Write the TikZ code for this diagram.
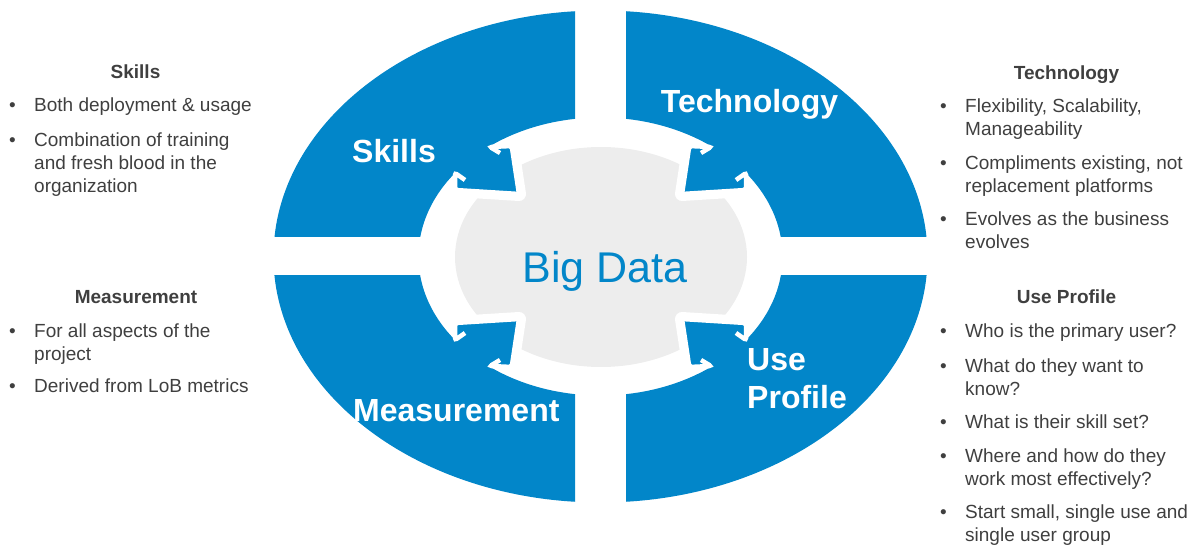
\documentclass[tikz,border=0pt]{standalone}
\usepackage{fontspec}
\setmainfont{Liberation Sans}
\usetikzlibrary{positioning}
\definecolor{bdblue}{HTML}{0286C9}
\definecolor{bdgray}{HTML}{EDEDED}
\definecolor{txtgray}{HTML}{3F3F3F}
\tikzset{
  quarter/.style={fill=bdblue, even odd rule},
  halo/.style={draw=white, line width=14, line join=round},
  tiphead/.style={fill=bdblue, rounded corners=2},
  notch/.style={draw=white, line width=4.5, rounded corners=2},
  wlabel/.style={text=white, inner sep=0, align=left, font=\fontsize{32}{38}\selectfont\bfseries},
  head/.style={text=txtgray, inner sep=0, anchor=base, font=\fontsize{19}{23}\selectfont\bfseries},
  item/.style={text=txtgray, inner sep=0, anchor=base west, align=left, font=\fontsize{19}{23}\selectfont},
  dot/.style={text=txtgray, inner sep=0, anchor=base west, font=\fontsize{19}{23}\selectfont}
}
\begin{document}
\begin{tikzpicture}[x=1pt, y=-1pt]
\useasboundingbox (0,0) rectangle (1191,545);

% centre
\fill[bdgray] (601,257) ellipse [x radius=146, y radius=110];

% white margins round the heads
\begin{scope}[shift={(600.5,256.5)}]
  \draw[halo] (-145.5,-83.5) -- (-145.5,-66.5) -- (-81.5,-62.5) -- (-88.8,-110.5) -- (-110.5,-109.5);
\end{scope}
\begin{scope}[shift={(600.5,256.5)}, xscale=-1]
  \draw[halo] (-145.5,-83.5) -- (-145.5,-66.5) -- (-81.5,-62.5) -- (-88.8,-110.5) -- (-110.5,-109.5);
\end{scope}
\begin{scope}[shift={(600.5,256.5)}, yscale=-1]
  \draw[halo] (-145.5,-83.5) -- (-145.5,-66.5) -- (-81.5,-62.5) -- (-88.8,-110.5) -- (-110.5,-109.5);
\end{scope}
\begin{scope}[shift={(600.5,256.5)}, xscale=-1, yscale=-1]
  \draw[halo] (-145.5,-83.5) -- (-145.5,-66.5) -- (-81.5,-62.5) -- (-88.8,-110.5) -- (-110.5,-109.5);
\end{scope}

% skills quarter
\begin{scope}[shift={(600.5,256.5)}]
  \begin{scope}
    \clip (-400,-300) rectangle (-25.5,-19.5);
    \fill[quarter] (0,0) ellipse [x radius=327, y radius=246] (0,0) ellipse [x radius=182, y radius=139];
  \end{scope}
  \fill[tiphead] (-110.5,-109.5) -- (-88.8,-110.5) -- (-81.5,-62.5) -- (-145.5,-66.5) -- (-145.5,-83.5)
    -- (-135.5,-76.5) -- (-170.5,-106.5) -- (-135.5,-133.5) -- (-100.5,-103.5) -- cycle;
  \draw[notch] (-135.5,-76.5) -- (-145.5,-83.5) -- (-145.5,-66.5) -- (-81.5,-62.5) -- (-88.8,-110.5) -- (-110.5,-109.5) -- (-100.5,-103.5);
\end{scope}

% technology quarter
\begin{scope}[shift={(600.5,256.5)}, xscale=-1]
  \begin{scope}
    \clip (-400,-300) rectangle (-25.5,-19.5);
    \fill[quarter] (0,0) ellipse [x radius=327, y radius=246] (0,0) ellipse [x radius=182, y radius=139];
  \end{scope}
  \fill[tiphead] (-110.5,-109.5) -- (-88.8,-110.5) -- (-81.5,-62.5) -- (-145.5,-66.5) -- (-145.5,-83.5)
    -- (-135.5,-76.5) -- (-170.5,-106.5) -- (-135.5,-133.5) -- (-100.5,-103.5) -- cycle;
  \draw[notch] (-135.5,-76.5) -- (-145.5,-83.5) -- (-145.5,-66.5) -- (-81.5,-62.5) -- (-88.8,-110.5) -- (-110.5,-109.5) -- (-100.5,-103.5);
\end{scope}

% measurement quarter
\begin{scope}[shift={(600.5,256.5)}, yscale=-1]
  \begin{scope}
    \clip (-400,-300) rectangle (-25.5,-19.5);
    \fill[quarter] (0,0) ellipse [x radius=327, y radius=246] (0,0) ellipse [x radius=182, y radius=139];
  \end{scope}
  \fill[tiphead] (-110.5,-109.5) -- (-88.8,-110.5) -- (-81.5,-62.5) -- (-145.5,-66.5) -- (-145.5,-83.5)
    -- (-135.5,-76.5) -- (-170.5,-106.5) -- (-135.5,-133.5) -- (-100.5,-103.5) -- cycle;
  \draw[notch] (-135.5,-76.5) -- (-145.5,-83.5) -- (-145.5,-66.5) -- (-81.5,-62.5) -- (-88.8,-110.5) -- (-110.5,-109.5) -- (-100.5,-103.5);
\end{scope}

% use profile quarter
\begin{scope}[shift={(600.5,256.5)}, xscale=-1, yscale=-1]
  \begin{scope}
    \clip (-400,-300) rectangle (-25.5,-19.5);
    \fill[quarter] (0,0) ellipse [x radius=327, y radius=246] (0,0) ellipse [x radius=182, y radius=139];
  \end{scope}
  \fill[tiphead] (-110.5,-109.5) -- (-88.8,-110.5) -- (-81.5,-62.5) -- (-145.5,-66.5) -- (-145.5,-83.5)
    -- (-135.5,-76.5) -- (-170.5,-106.5) -- (-135.5,-133.5) -- (-100.5,-103.5) -- cycle;
  \draw[notch] (-135.5,-76.5) -- (-145.5,-83.5) -- (-145.5,-66.5) -- (-81.5,-62.5) -- (-88.8,-110.5) -- (-110.5,-109.5) -- (-100.5,-103.5);
\end{scope}

\node[text=bdblue, inner sep=0, anchor=base, font=\fontsize{43}{50}\selectfont] (bigdata) at (605,283) {Big Data};
\node[wlabel, anchor=base] (skillsw) at (394,163) {Skills};
\node[wlabel, anchor=base] (techw) at (749.5,113) {Technology};
\node[wlabel, anchor=base west] (measw) at (353,421.5) {Measurement};
\node[wlabel, anchor=base west] (usew) at (747,408) {Use\\Profile};

% left side (multi-line items sit on their last line)
\node[head] (skillsh) at (135.5,79) {Skills};
\node[dot] (s1d) at (9,112) {•};
\node[item] (s1) at (34,112) {Both deployment \& usage};
\node[dot] (s2d) at (9,147) {•};
\node[item] (s2) at (34,193) {Combination of training\\and fresh blood in the\\organization};

\node[head] (meash) at (136,304) {Measurement};
\node[dot] (m1d) at (9,337) {•};
\node[item] (m1) at (34,360) {For all aspects of the\\project};
\node[dot] (m2d) at (9,392) {•};
\node[item] (m2) at (34,392) {Derived from LoB metrics};

% right side
\node[head] (techh) at (1066.5,80) {Technology};
\node[dot] (t1d) at (940,113) {•};
\node[item] (t1) at (965,136) {Flexibility, Scalability,\\Manageability};
\node[dot] (t2d) at (940,170) {•};
\node[item] (t2) at (965,193) {Compliments existing, not\\replacement platforms};
\node[dot] (t3d) at (940,226) {•};
\node[item] (t3) at (965,249) {Evolves as the business\\evolves};

\node[head] (useh) at (1066.5,304) {Use Profile};
\node[dot] (u1d) at (940,337) {•};
\node[item] (u1) at (965,337) {Who is the primary user?};
\node[dot] (u2d) at (940,372) {•};
\node[item] (u2) at (965,395) {What do they want to\\know?};
\node[dot] (u3d) at (940,428) {•};
\node[item] (u3) at (965,428) {What is their skill set?};
\node[dot] (u4d) at (940,462) {•};
\node[item] (u4) at (965,485) {Where and how do they\\work most effectively?};
\node[dot] (u5d) at (940,518) {•};
\node[item] (u5) at (965,541) {Start small, single use and\\single user group};
\end{tikzpicture}
\end{document}
